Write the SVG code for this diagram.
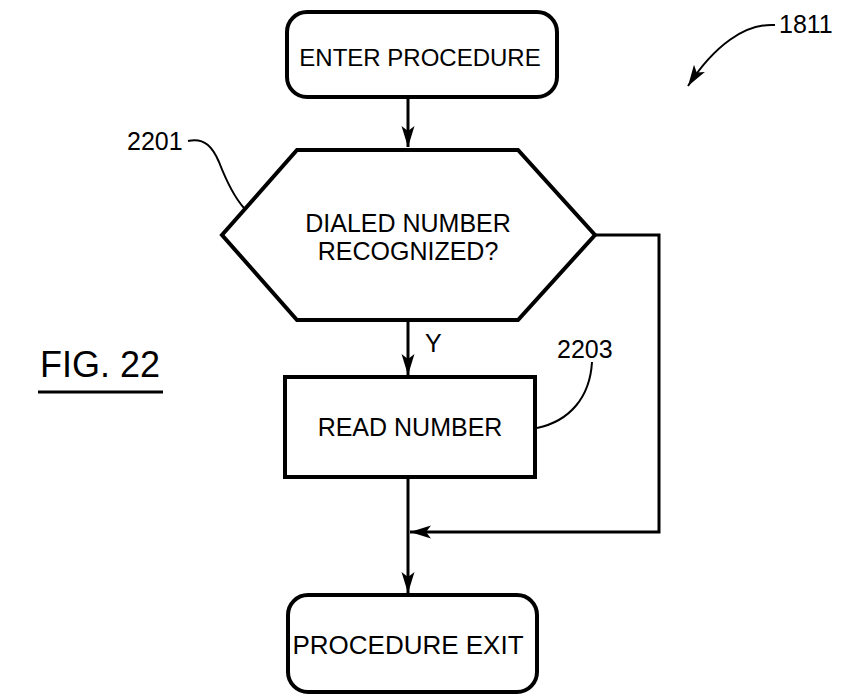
<svg xmlns="http://www.w3.org/2000/svg" width="845" height="695" viewBox="0 0 845 695">
<defs>
<style>
.box{fill:#fff;stroke:#000;stroke-width:4}
.t{font-family:"Liberation Sans",Arial,sans-serif;font-size:25px;fill:#000;text-anchor:middle}
.lbl{font-family:"Liberation Sans",Arial,sans-serif;font-size:25px;fill:#000}
.conn{fill:none;stroke:#000;stroke-width:3}
.lead{fill:none;stroke:#000;stroke-width:2}
</style>
<marker id="ah" markerUnits="userSpaceOnUse" markerWidth="24" markerHeight="16" viewBox="-22 -8 24 16" refX="0" refY="0" orient="auto">
<path d="M0,0 L-21,-6.5 L-16,0 L-21,6.5 Z" fill="#000"/>
</marker>
</defs>
<rect width="845" height="695" fill="#fff"/>
<g id="connectors">
<line class="conn" x1="408" y1="97" x2="408" y2="147" marker-end="url(#ah)"/>
<line class="conn" x1="408" y1="320" x2="408" y2="375" marker-end="url(#ah)"/>
<line class="conn" x1="408" y1="477" x2="408" y2="593" marker-end="url(#ah)"/>
<polyline class="conn" points="595,235 659,235 659,532 410,532" marker-end="url(#ah)"/>
<text class="lbl" x="425" y="352">Y</text>
</g>
<g id="enter">
<rect class="box" x="287" y="12" width="270" height="85" rx="20"/>
<text class="t" x="420" y="66" style="font-size:24px">ENTER PROCEDURE</text>
</g>
<g id="decision">
<polygon class="box" points="297,150 518,150 595,235 518,320 297,320 222,235"/>
<text class="t" x="408" y="232">DIALED NUMBER</text>
<text class="t" x="408" y="260">RECOGNIZED?</text>
</g>
<g id="read">
<rect class="box" x="285" y="377" width="250" height="100"/>
<text class="t" x="410" y="436">READ NUMBER</text>
</g>
<g id="exit">
<rect class="box" x="288" y="595" width="249" height="97" rx="20"/>
<text class="t" x="408" y="654" style="font-size:26px">PROCEDURE EXIT</text>
</g>
<g id="ref2201">
<text class="lbl" x="127" y="150">2201</text>
<path class="lead" d="M188,141 C205,137 213,148 219,162 C226,180 235,198 244,208"/>
</g>
<g id="ref2203">
<text class="lbl" x="557" y="358">2203</text>
<path class="lead" d="M592,362 C590,397 570,421 537,428"/>
</g>
<g id="ref1811">
<text class="lbl" x="779" y="33">1811</text>
<path class="lead" d="M775,25 C745,23 714,46 688,86" marker-end="url(#ah)"/>
</g>
<g id="fig">
<text x="40" y="377" style="font-family:'Liberation Sans',Arial,sans-serif;font-size:36px;fill:#000">FIG. 22</text>
<line x1="38" y1="392" x2="163" y2="392" stroke="#000" stroke-width="3"/>
</g>
</svg>
